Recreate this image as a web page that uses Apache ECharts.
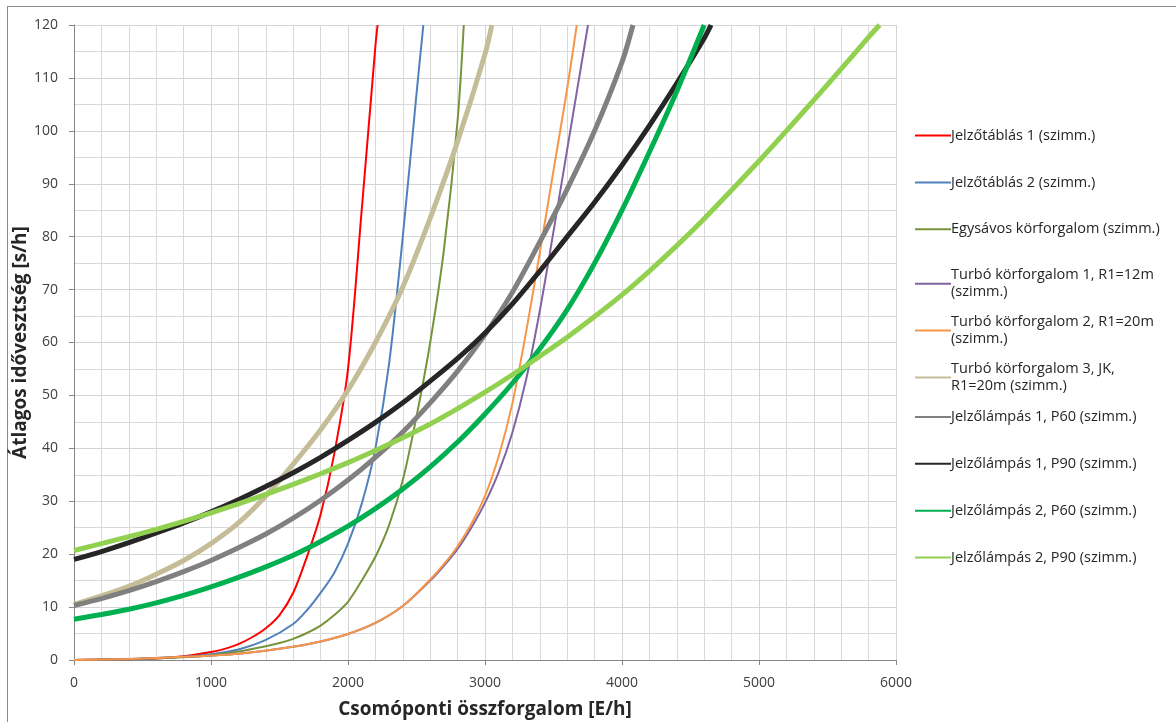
<!DOCTYPE html>
<html>
<head>
<meta charset="utf-8">
<script src="https://cdn.jsdelivr.net/npm/echarts@6/dist/echarts.min.js"></script>
<style>
  body { margin: 0; background: #fff; }
  #frame { position: absolute; left: 7px; top: 6px; width: 1300px; height: 800px; border: 1px solid #8a8a8a; }
  #chart { position: absolute; left: 0; top: 0; width: 1176px; height: 722px; }
</style>
</head>
<body>
<div id="frame"></div>
<div id="chart"></div>
<script>
// series values (x = E/h, y = s/h)
const xRed = [0, 200, 400, 600, 800, 1000, 1100, 1200, 1300, 1400, 1500, 1600, 1700, 1800, 1900, 2000, 2100, 2200, 2216];
const yRed = [0, 0.05, 0.15, 0.3, 0.7, 1.5, 2.1, 3, 4.3, 6, 8.5, 12.7, 19.5, 27.5, 39, 55, 85, 116, 120];

const xBlue = [0, 400, 800, 1000, 1200, 1400, 1600, 1700, 1800, 1900, 2000, 2100, 2200, 2300, 2400, 2500, 2550];
const yBlue = [0, 0.15, 0.6, 1.1, 2, 3.8, 6.8, 9.4, 12.7, 16.5, 22, 29.5, 40, 56, 80, 107, 120];

const xOlive = [0, 400, 800, 1000, 1200, 1400, 1500, 1600, 1700, 1800, 1900, 2000, 2100, 2200, 2300, 2400, 2500, 2600, 2700, 2800, 2845];
const yOlive = [0, 0.15, 0.5, 0.9, 1.6, 2.6, 3.2, 4, 5.1, 6.5, 8.5, 11, 15, 19.5, 25.5, 34, 46, 60, 77.5, 102, 120];

const xTurbo1 = [0, 400, 800, 1200, 1600, 1800, 2000, 2200, 2400, 2600, 2700, 2800, 2900, 3000, 3100, 3200, 3300, 3400, 3500, 3600, 3700, 3752];
const yTurbo1 = [0, 0.2, 0.6, 1.2, 2.5, 3.5, 4.9, 7, 10.2, 15, 17.8, 21, 25, 29.7, 35.5, 43, 53, 66, 81, 96.5, 112, 120];

const xTurbo2 = [0, 400, 800, 1200, 1600, 1800, 2000, 2200, 2400, 2600, 2700, 2800, 2900, 3000, 3100, 3200, 3300, 3400, 3500, 3600, 3670];
const yTurbo2 = [0, 0.2, 0.6, 1.2, 2.5, 3.5, 4.9, 7, 10.2, 15.2, 18.1, 21.5, 25.7, 31, 38.5, 48.5, 62, 77, 92.5, 108, 120];

const xTurbo3 = [0, 200, 400, 600, 800, 1000, 1200, 1400, 1600, 1800, 2000, 2200, 2400, 2600, 2800, 3000, 3050];
const yTurbo3 = [10.5, 12.1, 13.9, 16.2, 18.8, 22, 25.9, 31, 37, 43.5, 51, 60, 70.5, 83.5, 98, 114.5, 120];

const xLamp1P60 = [0, 200, 400, 600, 800, 1000, 1200, 1400, 1600, 1800, 2000, 2200, 2400, 2600, 2800, 3000, 3200, 3400, 3600, 3800, 4000, 4080];
const yLamp1P60 = [10.3, 11.6, 13.1, 14.8, 16.7, 18.8, 21.2, 23.8, 26.8, 30.2, 34, 38.3, 43.1, 48.6, 54.6, 61.5, 69.5, 79, 89, 100, 113, 120];

const xLamp1P90 = [0, 200, 400, 600, 800, 1000, 1200, 1400, 1600, 1800, 2000, 2200, 2400, 2600, 2800, 3000, 3200, 3400, 3600, 3800, 4000, 4200, 4400, 4600, 4650];
const yLamp1P90 = [19, 20.5, 22.2, 24, 25.9, 28, 30.3, 32.8, 35.4, 38.3, 41.5, 44.9, 48.6, 52.7, 57, 61.8, 67.3, 73.5, 80, 86.5, 93.5, 101, 109, 117.5, 120];

const xLamp2P60 = [0, 200, 400, 600, 800, 1000, 1200, 1400, 1600, 1800, 2000, 2200, 2400, 2600, 2800, 3000, 3200, 3400, 3600, 3800, 4000, 4200, 4400, 4600];
const yLamp2P60 = [7.7, 8.6, 9.6, 10.8, 12.2, 13.8, 15.6, 17.6, 19.8, 22.4, 25.3, 28.6, 32.3, 36.5, 41.2, 46.5, 52.3, 58.8, 66.2, 75, 85, 96, 107.5, 120];

const xLamp2P90 = [0, 200, 400, 600, 800, 1000, 1200, 1400, 1600, 1800, 2000, 2200, 2400, 2600, 2800, 3000, 3200, 3400, 3600, 3800, 4000, 4200, 4400, 4600, 4800, 5000, 5200, 5400, 5600, 5800, 5880];
const yLamp2P90 = [20.7, 22, 23.3, 24.7, 26.2, 27.8, 29.5, 31.3, 33.2, 35.2, 37.3, 39.6, 42, 44.6, 47.5, 50.6, 53.9, 57.4, 61, 64.9, 69, 73.5, 78.3, 83.4, 88.8, 94.3, 100, 105.8, 111.7, 117.7, 120];

const seriesNames = [
  "Jelzőtáblás 1 (szimm.)",
  "Jelzőtáblás 2 (szimm.)",
  "Egysávos körforgalom (szimm.)",
  "Turbó körforgalom 1, R1=12m\n(szimm.)",
  "Turbó körforgalom 2, R1=20m\n(szimm.)",
  "Turbó körforgalom 3, JK,\nR1=20m (szimm.)",
  "Jelzőlámpás 1, P60 (szimm.)",
  "Jelzőlámpás 1, P90 (szimm.)",
  "Jelzőlámpás 2, P60 (szimm.)",
  "Jelzőlámpás 2, P90 (szimm.)"
];
const seriesX = [xRed, xBlue, xOlive, xTurbo1, xTurbo2, xTurbo3, xLamp1P60, xLamp1P90, xLamp2P60, xLamp2P90];
const seriesY = [yRed, yBlue, yOlive, yTurbo1, yTurbo2, yTurbo3, yLamp1P60, yLamp1P90, yLamp2P60, yLamp2P90];
const colors = ["#ff0000", "#4f81bd", "#77933c", "#8064a2", "#f79646", "#c4bd97", "#808080", "#262626", "#00b050", "#92d050"];
const widths = [2, 2, 2, 2, 2, 5, 5, 5, 5, 5];

const font = "'Open Sans', 'Noto Sans', sans-serif";

let myChart = echarts.init(document.getElementById("chart"));

let series = seriesNames.map((name, i) => ({
  name: name,
  type: "line",
  data: seriesX[i].map((x, j) => [x, seriesY[i][j]]),
  symbol: "none",
  smooth: 0.3,
  z: 2 + i,
  lineStyle: { color: colors[i], width: widths[i] },
  itemStyle: { color: colors[i] }
}));

// one legend block per entry so the rows are evenly spaced like in the original
let legends = seriesNames.map((name, i) => {
  let twoLines = name.indexOf("\n") >= 0;
  return {
    data: [name],
    left: 909,
    top: 122 + i * 46.9,
    itemWidth: 36,
    itemHeight: 14,
    itemGap: 0,
    selectedMode: false,
    itemStyle: { opacity: 0 },
    textStyle: {
      fontFamily: font,
      fontSize: 14.5,
      color: "#262626",
      lineHeight: 17,
      padding: twoLines ? [-8.5, 0, 0, -5] : [0, 0, 0, -5],
      verticalAlign: twoLines ? "top" : "middle"
    }
  };
});

myChart.setOption({
  animation: false,
  grid: { left: 74, top: 25, right: 280, bottom: 62, containLabel: false, outerBoundsMode: "none" },
  legend: legends,
  xAxis: {
    type: "value",
    min: 0,
    max: 6000,
    interval: 1000,
    name: "Csomóponti összforgalom [E/h]",
    nameLocation: "middle",
    nameGap: 40,
    nameTextStyle: { fontFamily: font, fontSize: 19, fontWeight: "bold", color: "#262626" },
    axisLine: { show: true, lineStyle: { color: "#868686" } },
    axisTick: { show: true, length: 5, lineStyle: { color: "#868686" } },
    axisLabel: { fontFamily: font, fontSize: 14, color: "#404040", margin: 16, formatter: v => String(v) },
    splitLine: { show: true, lineStyle: { color: "#d4d4d4" } },
    minorTick: { show: false, splitNumber: 5 },
    minorSplitLine: { show: true, lineStyle: { color: "#d9d9d9" } }
  },
  yAxis: {
    type: "value",
    min: 0,
    max: 120,
    interval: 10,
    name: "Átlagos idővesztség [s/h]",
    nameLocation: "middle",
    nameGap: 44,
    nameMoveOverlap: false,
    nameTextStyle: { fontFamily: font, fontSize: 19, fontWeight: "bold", color: "#262626" },
    axisLine: { show: true, lineStyle: { color: "#868686" } },
    axisTick: { show: true, length: 5, lineStyle: { color: "#868686" } },
    axisLabel: { fontFamily: font, fontSize: 14, color: "#404040", margin: 16, formatter: v => String(v) },
    splitLine: { show: true, lineStyle: { color: "#d4d4d4" } },
    minorTick: { show: false, splitNumber: 2 },
    minorSplitLine: { show: true, lineStyle: { color: "#d9d9d9" } }
  },
  series: series
});
</script>
</body>
</html>
